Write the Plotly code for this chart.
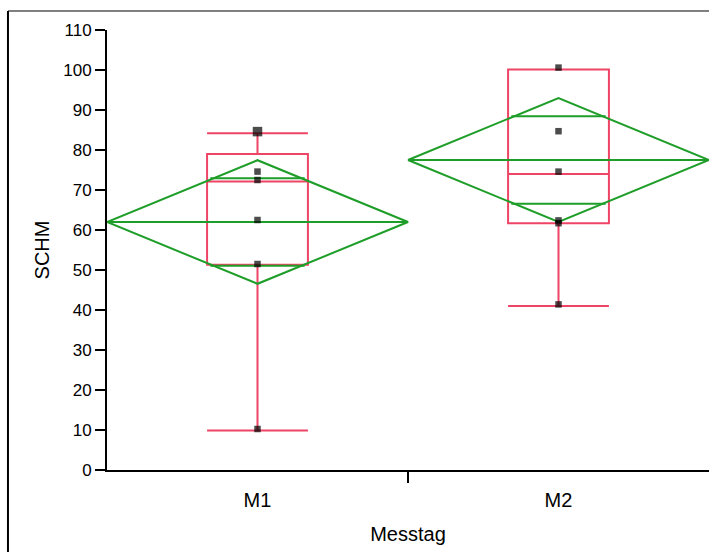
import plotly.graph_objects as go

# Groups (Messtag) and the numeric centre position of each group on the x axis
groups = ["M1", "M2"]
group_pos = [0.5, 1.5]

# Individual SCHM observations per group, with counts for coincident points
m1_values = [10.25, 51.5, 62.5, 72.5, 74.6, 84.6]
m1_counts = [1, 1, 1, 1, 1, 2]
m2_values = [41.4, 61.7, 62.4, 74.6, 84.7, 100.6]
m2_counts = [1, 1, 1, 1, 1, 1]

# Outlier box plot statistics
box_q1 = [51.3, 61.7]
box_median = [72.1, 74.0]
box_q3 = [79.0, 100.1]
box_low = [9.9, 41.0]
box_high = [84.2, 100.1]

# Means diamonds: group means and 95% confidence half-widths
group_means = [62.0, 77.5]
ci_half = [15.45, 15.5]

# Y axis ticks
y_ticks = [0, 10, 20, 30, 40, 50, 60, 70, 80, 90, 100, 110]

RED = "#EE4466"
GREEN = "#1E9E28"
FONT = "Liberation Sans, Arial, sans-serif"

fig = go.Figure()

# Box plots
fig.add_trace(go.Box(
    x=group_pos, q1=box_q1, median=box_median, q3=box_q3,
    lowerfence=box_low, upperfence=box_high,
    width=0.335, whiskerwidth=1,
    line=dict(color=RED, width=2), fillcolor="rgba(0,0,0,0)",
    boxpoints=False, hoverinfo="skip", showlegend=False,
))

# Means diamonds with overlap marks
half_w = 0.5
overlap = 2 ** 0.5 / 2
for xc, m, h in zip(group_pos, group_means, ci_half):
    x0, x1 = xc - half_w, xc + half_w
    fig.add_trace(go.Scatter(
        x=[x0, xc, x1, xc, x0], y=[m, m + h, m, m - h, m],
        mode="lines", line=dict(color=GREEN, width=2),
        hoverinfo="skip", showlegend=False,
    ))
    fig.add_trace(go.Scatter(
        x=[x0, x1], y=[m, m], mode="lines",
        line=dict(color=GREEN, width=2), hoverinfo="skip", showlegend=False,
    ))
    ext = half_w * (1 - overlap) * 1.07
    for sgn in (1, -1):
        yy = m + sgn * overlap * h
        fig.add_trace(go.Scatter(
            x=[xc - ext, xc + ext], y=[yy, yy], mode="lines",
            line=dict(color=GREEN, width=2), hoverinfo="skip", showlegend=False,
        ))

# Raw data points
for xc, vals, cnts in [(group_pos[0], m1_values, m1_counts),
                       (group_pos[1], m2_values, m2_counts)]:
    fig.add_trace(go.Scatter(
        x=[xc] * len(vals), y=vals, mode="markers",
        marker=dict(symbol="square", color="black",
                    size=[6.5 + 3 * (c - 1) for c in cnts], line=dict(width=0)),
        hoverinfo="skip", showlegend=False,
    ))

fig.update_layout(
    width=709, height=552,
    margin=dict(l=107, r=0, t=30, b=82),
    paper_bgcolor="white", plot_bgcolor="white",
    font=dict(family=FONT, color="black"),
    xaxis=dict(
        range=[0, 2], tickmode="array", tickvals=group_pos, ticktext=groups,
        ticks="", showgrid=False, zeroline=False,
        showline=True, linecolor="black", linewidth=2,
        tickfont=dict(size=20), ticklabelstandoff=11,
        minor=dict(tickvals=[1], ticks="outside", ticklen=11,
                   tickwidth=2, tickcolor="black", showgrid=False),
        title=dict(text="Messtag", font=dict(size=20), standoff=17),
    ),
    yaxis=dict(
        range=[0, 110], tickmode="array", tickvals=y_ticks,
        ticks="outside", ticklen=10, tickwidth=1.5, tickcolor="black",
        showgrid=False, zeroline=False,
        showline=True, linecolor="black", linewidth=2,
        tickfont=dict(size=17), ticklabelstandoff=0,
        title=dict(text="SCHM", font=dict(size=20), standoff=8),
    ),
    shapes=[
        dict(type="line", xref="paper", yref="paper",
             x0=-0.1645, x1=-0.1645, y0=-0.3, y1=1.0432,
             line=dict(color="black", width=2)),
        dict(type="line", xref="paper", yref="paper",
             x0=-0.1645, x1=1.1, y0=1.0432, y1=1.0432,
             line=dict(color="black", width=1)),
    ],
)

fig.write_html("out.html")
